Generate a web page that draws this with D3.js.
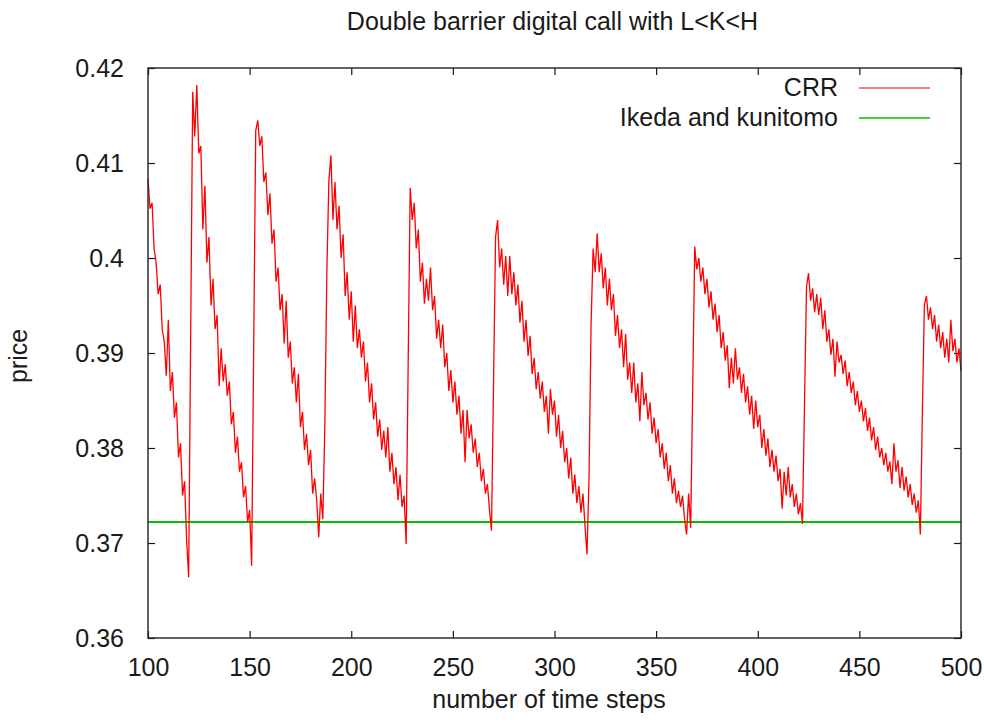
<!DOCTYPE html>
<html>
<head>
<meta charset="utf-8">
<script src="https://cdn.jsdelivr.net/npm/d3@7"></script>
<style>
  body { margin: 0; background: #fff; }
  text { font-family: "Liberation Sans", Arial, sans-serif; }
</style>
</head>
<body>
<div id="container"></div>
<script>
/* DATA (one value per time step, 100..500) */
const firstStep = 100;
const crrCycle1 = [0.4083, 0.4052, 0.4058, 0.4010, 0.3995, 0.3962, 0.3972, 0.3925, 0.3912, 0.3876,
  0.3935, 0.3860, 0.3880, 0.3832, 0.3848, 0.3790, 0.3805, 0.3750, 0.3765, 0.3703, 0.3664, 0.3920];
const crrCycle2 = [0.4175, 0.4128, 0.4182, 0.4110, 0.4118, 0.4030, 0.4076, 0.3995, 0.4022, 0.3950,
  0.3978, 0.3925, 0.3940, 0.3865, 0.3905, 0.3870, 0.3888, 0.3855, 0.3870, 0.3825,
  0.3838, 0.3795, 0.3812, 0.3775, 0.3785, 0.3748, 0.3760, 0.3722, 0.3735, 0.3676, 0.3906];
const crrCycle3 = [0.4134, 0.4145, 0.4118, 0.4128, 0.4080, 0.4090, 0.4045, 0.4068, 0.4015, 0.4030,
  0.3975, 0.3990, 0.3945, 0.3962, 0.3910, 0.3955, 0.3895, 0.3912, 0.3868, 0.3885,
  0.3848, 0.3878, 0.3822, 0.3838, 0.3798, 0.3815, 0.3782, 0.3798, 0.3752, 0.3768,
  0.3745, 0.3706, 0.3752, 0.3725, 0.3822, 0.3986];
const crrCycle4 = [0.4082, 0.4108, 0.4040, 0.4080, 0.4030, 0.4055, 0.4000, 0.4025, 0.3960, 0.3985,
  0.3935, 0.3965, 0.3912, 0.3950, 0.3905, 0.3925, 0.3895, 0.3912, 0.3870, 0.3890,
  0.3848, 0.3868, 0.3830, 0.3848, 0.3812, 0.3830, 0.3798, 0.3818, 0.3790, 0.3822,
  0.3775, 0.3795, 0.3762, 0.3780, 0.3745, 0.3772, 0.3738, 0.3750, 0.3699, 0.3888];
const crrCycle5 = [0.4074, 0.4040, 0.4058, 0.4010, 0.4030, 0.3975, 0.3995, 0.3952, 0.3978, 0.3955,
  0.3990, 0.3945, 0.3960, 0.3915, 0.3935, 0.3905, 0.3930, 0.3885, 0.3900, 0.3860,
  0.3882, 0.3848, 0.3870, 0.3835, 0.3855, 0.3815, 0.3840, 0.3785, 0.3840, 0.3810,
  0.3825, 0.3795, 0.3810, 0.3780, 0.3795, 0.3765, 0.3778, 0.3752, 0.3762, 0.3735,
  0.3713, 0.3867];
const crrCycle6 = [0.4022, 0.4040, 0.3990, 0.4010, 0.3972, 0.4002, 0.3960, 0.4002, 0.3962, 0.3985,
  0.3950, 0.3972, 0.3932, 0.3955, 0.3912, 0.3935, 0.3897, 0.3918, 0.3878, 0.3895,
  0.3862, 0.3880, 0.3852, 0.3870, 0.3838, 0.3855, 0.3815, 0.3862, 0.3835, 0.3850,
  0.3812, 0.3835, 0.3800, 0.3818, 0.3785, 0.3800, 0.3768, 0.3790, 0.3752, 0.3772,
  0.3742, 0.3760, 0.3732, 0.3752, 0.3718, 0.3688, 0.3771, 0.3930];
const crrCycle7 = [0.4010, 0.3985, 0.4026, 0.3985, 0.4005, 0.3968, 0.3990, 0.3950, 0.3978, 0.3945,
  0.3962, 0.3918, 0.3940, 0.3905, 0.3925, 0.3885, 0.3920, 0.3872, 0.3890, 0.3858,
  0.3890, 0.3848, 0.3868, 0.3828, 0.3880, 0.3845, 0.3858, 0.3830, 0.3848, 0.3815,
  0.3832, 0.3805, 0.3820, 0.3790, 0.3805, 0.3778, 0.3795, 0.3765, 0.3782, 0.3752,
  0.3768, 0.3742, 0.3755, 0.3738, 0.3750, 0.3725, 0.3709, 0.3752, 0.3716, 0.3863];
const crrCycle8 = [0.4012, 0.3988, 0.4000, 0.3975, 0.3990, 0.3962, 0.3978, 0.3948, 0.3965, 0.3935,
  0.3952, 0.3922, 0.3940, 0.3905, 0.3922, 0.3892, 0.3908, 0.3863, 0.3895, 0.3868,
  0.3905, 0.3872, 0.3885, 0.3858, 0.3878, 0.3848, 0.3865, 0.3835, 0.3855, 0.3820,
  0.3850, 0.3822, 0.3835, 0.3800, 0.3820, 0.3792, 0.3810, 0.3780, 0.3798, 0.3775,
  0.3792, 0.3765, 0.3778, 0.3736, 0.3775, 0.3750, 0.3780, 0.3748, 0.3762, 0.3738,
  0.3752, 0.3730, 0.3742, 0.3720, 0.3846];
const crrCycle9 = [0.3970, 0.3984, 0.3955, 0.3968, 0.3943, 0.3962, 0.3940, 0.3958, 0.3925, 0.3945,
  0.3912, 0.3925, 0.3898, 0.3915, 0.3875, 0.3912, 0.3890, 0.3898, 0.3878, 0.3892,
  0.3865, 0.3880, 0.3858, 0.3870, 0.3845, 0.3860, 0.3838, 0.3850, 0.3828, 0.3842,
  0.3818, 0.3832, 0.3808, 0.3822, 0.3798, 0.3812, 0.3790, 0.3800, 0.3782, 0.3795,
  0.3775, 0.3786, 0.3762, 0.3805, 0.3775, 0.3787, 0.3758, 0.3780, 0.3755, 0.3770,
  0.3748, 0.3762, 0.3740, 0.3752, 0.3732, 0.3745, 0.3709, 0.3839];
const crrCycle10 = [0.3951, 0.3960, 0.3935, 0.3948, 0.3925, 0.3940, 0.3912, 0.3930, 0.3905, 0.3922,
  0.3895, 0.3915, 0.3890, 0.3935, 0.3902, 0.3915, 0.3890, 0.3905, 0.3881];

const ikSteps = [100, 500];
const ikPrice = [0.3722, 0.3722];

const xTicks = [100, 150, 200, 250, 300, 350, 400, 450, 500];
const yTicks = [0.36, 0.37, 0.38, 0.39, 0.4, 0.41, 0.42];
const seriesNames = ["CRR", "Ikeda and kunitomo"];
const seriesColors = ["#ff0000", "#00c000"];

/* CONSTANTS */
const width = 984,
  height = 727,
  margin = { top: 68, right: 23, bottom: 89, left: 148 },
  tickLen = 7,
  fontSize = 25,
  textColor = "#1a1a1a";

const crr = [].concat(crrCycle1, crrCycle2, crrCycle3, crrCycle4, crrCycle5,
  crrCycle6, crrCycle7, crrCycle8, crrCycle9, crrCycle10)
  .map((p, i) => ({ step: firstStep + i, price: p }));
const ik = ikSteps.map((s, i) => ({ step: s, price: ikPrice[i] }));

const svg = d3.select("#container")
  .append("svg")
  .attr("width", width)
  .attr("height", height)
  .style("background-color", "white");

/* SCALES */
const xScale = d3.scaleLinear()
  .domain([100, 500])
  .range([margin.left, width - margin.right]);

const yScale = d3.scaleLinear()
  .domain([0.36, 0.42])
  .range([height - margin.bottom, margin.top]);

/* AXES (gnuplot style: ticks inward, mirrored) */
function styleAxis(g) {
  g.select(".domain").remove();
  g.attr("font-family", null).attr("font-size", null).style("color", textColor);
  g.selectAll(".tick text")
    .style("font-size", fontSize + "px")
    .style("fill", textColor);
  g.selectAll(".tick line").attr("stroke-width", 1.2);
}

svg.append("g")
  .attr("transform", `translate(0, ${height - margin.bottom})`)
  .call(d3.axisBottom(xScale).tickValues(xTicks).tickSizeInner(-tickLen).tickSizeOuter(0).tickPadding(20))
  .call(styleAxis);

svg.append("g")
  .attr("transform", `translate(0, ${margin.top})`)
  .call(d3.axisTop(xScale).tickValues(xTicks).tickSizeInner(-tickLen).tickSizeOuter(0).tickFormat(""))
  .call(styleAxis);

svg.append("g")
  .attr("transform", `translate(${margin.left}, 0)`)
  .call(d3.axisLeft(yScale).tickValues(yTicks).tickSizeInner(-tickLen).tickSizeOuter(0)
    .tickPadding(24).tickFormat(d3.format("~g")))
  .call(styleAxis);

svg.append("g")
  .attr("transform", `translate(${width - margin.right}, 0)`)
  .call(d3.axisRight(yScale).tickValues(yTicks).tickSizeInner(-tickLen).tickSizeOuter(0).tickFormat(""))
  .call(styleAxis);

/* LINES */
const line = d3.line()
  .x(d => xScale(d.step))
  .y(d => yScale(d.price));

svg.append("path")
  .datum(ik)
  .attr("d", line)
  .attr("fill", "none")
  .attr("stroke", seriesColors[1])
  .attr("stroke-width", 2);

svg.append("path")
  .datum(crr)
  .attr("d", line)
  .attr("fill", "none")
  .attr("stroke", seriesColors[0])
  .attr("stroke-width", 1.3)
  .attr("stroke-linejoin", "miter");

/* BORDER */
svg.append("rect")
  .attr("x", margin.left)
  .attr("y", margin.top)
  .attr("width", width - margin.left - margin.right)
  .attr("height", height - margin.top - margin.bottom)
  .attr("fill", "none")
  .attr("stroke", "#222")
  .attr("stroke-width", 1.4);

/* LEGEND */
const legend = svg.append("g");
seriesNames.forEach((name, i) => {
  const y = 88 + i * 30;
  legend.append("text")
    .attr("x", 838)
    .attr("y", y + 8)
    .attr("text-anchor", "end")
    .style("font-size", fontSize + "px")
    .style("fill", textColor)
    .text(name);
  legend.append("line")
    .attr("x1", 859).attr("x2", 930)
    .attr("y1", y).attr("y2", y)
    .attr("stroke", seriesColors[i])
    .attr("stroke-width", i === 0 ? 1.2 : 1.5);
});

/* TITLES */
svg.append("text")
  .attr("x", (margin.left + width - margin.right) / 2 - 2)
  .attr("y", 30)
  .attr("text-anchor", "middle")
  .style("font-size", fontSize + "px")
  .style("fill", textColor)
  .text("Double barrier digital call with L<K<H");

svg.append("text")
  .attr("x", 549)
  .attr("y", 708)
  .attr("text-anchor", "middle")
  .style("font-size", fontSize + "px")
  .style("fill", textColor)
  .text("number of time steps");

svg.append("text")
  .attr("transform", `translate(27, 356) rotate(-90)`)
  .attr("text-anchor", "middle")
  .style("font-size", fontSize + "px")
  .style("fill", textColor)
  .text("price");
</script>
</body>
</html>
